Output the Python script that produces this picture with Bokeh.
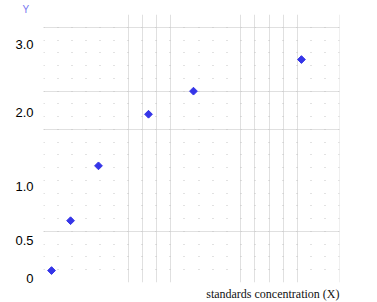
import numpy as np
from bokeh.plotting import figure
from bokeh.models import Range1d, FixedTicker, Grid, Title
from bokeh.embed import file_html
from bokeh.resources import INLINE

# ---- data ----
x_vals = [0.57, 1.92, 3.90, 7.45, 10.64, 18.30]          # standards concentration (grid units)
y_vals = [0.10, 0.685, 1.28, 1.97, 2.31, 2.78]            # response (Y)
tick_values = [0, 0.5, 1.0, 2.0, 3.0]
tick_labels = ["0", "0.5", "1.0", "2.0", "3.0"]

# axis layout of the (non-linear) printed Y scale, in plot units
tick_pos = [0.35, 3.28, 7.5, 13.36, 18.63]
y_plot = np.interp(y_vals, tick_values, tick_pos)

p = figure(width=377, height=302, output_backend="svg", toolbar_location=None,
           x_range=Range1d(0, 21), y_range=Range1d(0, 21),
           min_border_left=43, min_border_right=38, min_border_top=14, min_border_bottom=19)
p.outline_line_color = None
p.background_fill_color = "white"
p.border_fill_color = "white"
p.xaxis.visible = False
p.xgrid.visible = False
p.ygrid.visible = False

ya = p.yaxis[0]
ya.ticker = FixedTicker(ticks=tick_pos)
ya.major_label_overrides = {pos: lab for pos, lab in zip(tick_pos, tick_labels)}
ya.axis_line_color = None
ya.major_tick_line_color = None
ya.minor_tick_line_color = None
ya.major_tick_in = 0
ya.major_tick_out = 0
ya.major_label_standoff = 10
ya.major_label_text_font = "Liberation Sans"
ya.major_label_text_font_size = "13px"
ya.major_label_text_color = "#000000"

# solid light grid lines
solid_cols = [6, 7, 8, 9, 14, 15, 16, 17, 18, 20.97]
solid_rows = [4, 12, 15, 20]
p.add_layout(Grid(dimension=0, ticker=FixedTicker(ticks=solid_cols),
                  grid_line_color="#e0e0e0", grid_line_width=1))
p.add_layout(Grid(dimension=1, ticker=FixedTicker(ticks=solid_rows),
                  grid_line_color="#e0e0e0", grid_line_width=1))
# dotted rows (dots at every grid intersection)
dot_rows = list(range(1, 21))
p.add_layout(Grid(dimension=1, ticker=FixedTicker(ticks=dot_rows),
                  grid_line_color="#c4c4c4", grid_line_width=1,
                  grid_line_dash="1 13 1 13 1 13 1 13 1 13 1 13 1 13 1 13 1 13 1 13 1 14"))

p.scatter(x_vals, y_plot, marker="square", angle=np.pi / 4, size=5.5,
          fill_color="#3535e8", line_color="#3535e8")

p.add_layout(Title(text="standards concentration (X)", align="right",
                   text_font="Times New Roman", text_font_style="normal",
                   text_font_size="12px", text_color="#111111", standoff=4), "below")

p.add_layout(Title(text="Y", align="left", offset=-21,
                   text_font="Liberation Sans", text_font_style="normal",
                   text_font_size="10px", text_color="#7878f0", standoff=0), "above")

open("out.html", "w").write(file_html(p, INLINE))
